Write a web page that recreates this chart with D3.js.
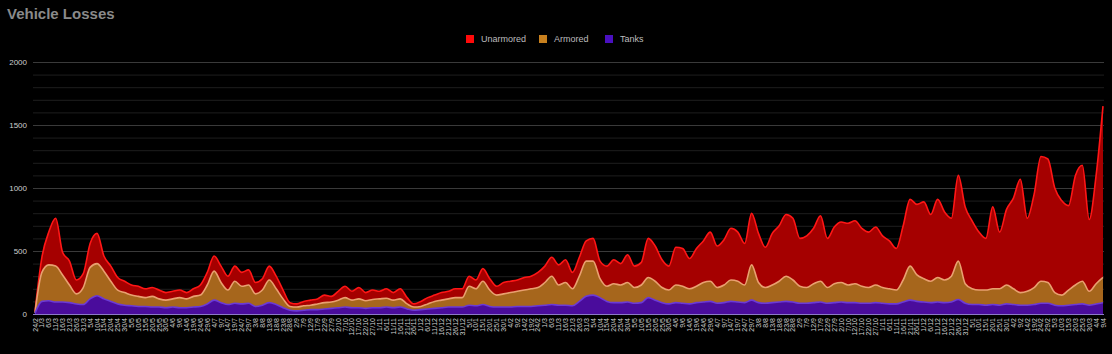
<!DOCTYPE html>
<html>
<head>
<meta charset="utf-8">
<script src="https://cdn.jsdelivr.net/npm/d3@7"></script>
<style>
  html, body { margin: 0; padding: 0; background: #000; }
  svg { display: block; font-family: "Liberation Sans", Arial, sans-serif; }
</style>
</head>
<body>
<div id="chart-container"></div>
<script>
// one point every 5 days, 24/2/2022 onwards
const dates = d3.timeDay.range(new Date(2022, 1, 24), new Date(2024, 3, 10), 5);

const unarmored = [20, 450, 650, 760, 490, 420, 270, 320, 560, 640,
  460, 380, 290, 260, 230, 220, 200, 210, 190, 170,
  180, 190, 170, 200, 230, 330, 460, 380, 300, 380,
  330, 350, 250, 280, 380, 300, 190, 90, 80, 100,
  110, 120, 150, 140, 180, 220, 180, 210, 170, 190,
  180, 200, 170, 200, 130, 80, 100, 130, 150, 170,
  180, 200, 200, 300, 270, 360, 280, 220, 250, 260,
  270, 290, 300, 330, 380, 450, 390, 430, 330, 450,
  580, 600, 420, 380, 430, 400, 470, 380, 410, 600,
  540, 430, 380, 530, 520, 440, 520, 580, 650, 540,
  590, 680, 650, 560, 800, 640, 530, 640, 700, 790,
  760, 600, 620, 680, 780, 600, 690, 730, 720, 740,
  680, 650, 690, 620, 580, 520, 700, 910, 870, 890,
  790, 910, 810, 760, 1100, 850, 740, 650, 600, 850,
  650, 830, 920, 1070, 760, 950, 1250, 1230, 1000, 900,
  860, 1100, 1180, 750, 1100, 1650];

const armored = [10, 330, 390, 380, 310, 230, 160, 210, 370, 400,
  340, 260, 190, 170, 150, 140, 130, 140, 120, 110,
  120, 130, 120, 140, 150, 230, 340, 250, 190, 260,
  220, 230, 160, 190, 270, 200, 120, 60, 55, 65,
  70, 80, 90, 95, 110, 130, 110, 120, 105, 115,
  120, 125, 110, 120, 80, 55, 60, 80, 100, 110,
  120, 130, 130, 220, 200, 260, 190, 150, 160, 170,
  180, 190, 200, 210, 250, 300, 230, 250, 200, 300,
  420, 420, 280, 220, 240, 230, 250, 210, 230, 290,
  260, 210, 190, 230, 220, 200, 220, 250, 260, 210,
  230, 270, 260, 230, 390, 250, 210, 230, 260, 300,
  270, 220, 210, 240, 260, 210, 240, 250, 230, 240,
  220, 210, 230, 210, 200, 190, 270, 380, 310, 280,
  260, 290, 270, 300, 420, 240, 200, 190, 190, 200,
  200, 230, 200, 170, 180, 210, 260, 250, 170, 150,
  190, 230, 260, 180, 240, 290];

const tanks = [5, 100, 105, 95, 95, 90, 80, 75, 120, 145,
  120, 100, 80, 70, 65, 60, 60, 55, 55, 50,
  55, 50, 50, 55, 60, 80, 110, 90, 75, 85,
  80, 85, 60, 70, 90, 75, 50, 30, 25, 30,
  35, 35, 40, 45, 50, 55, 50, 50, 45, 50,
  50, 55, 50, 55, 40, 30, 35, 40, 45, 50,
  55, 55, 55, 70, 65, 75, 60, 55, 55, 55,
  60, 60, 60, 65, 70, 75, 70, 70, 65, 100,
  140, 150, 130, 100, 90, 90, 95, 85, 90, 130,
  110, 90, 80, 90, 85, 80, 90, 95, 100, 85,
  90, 100, 95, 90, 110, 90, 85, 90, 95, 100,
  95, 85, 85, 90, 95, 85, 90, 95, 90, 90,
  85, 85, 90, 85, 80, 80, 95, 110, 100, 95,
  90, 95, 90, 95, 115, 85, 75, 75, 70, 75,
  70, 80, 75, 70, 70, 75, 85, 85, 70, 65,
  70, 75, 80, 70, 80, 90];

const seriesNames = ["Unarmored", "Armored", "Tanks"];
const yTicks = [0, 500, 1000, 1500, 2000];

const width = 1112, height = 354;
const marginLeft = 35, marginRight = 8, marginTop = 62, marginBottom = 40;

const fills = ["#a50000", "#a6661c", "#4a0c9c"];
const strokes = ["#ff1616", "#e9a070", "#6b3ad6"];
const legendColors = ["#ff0a0a", "#c8801e", "#4a10c0"];

const svg = d3.select("#chart-container")
  .append("svg")
  .attr("width", width)
  .attr("height", height);

svg.append("rect").attr("width", width).attr("height", height).attr("fill", "#000");

// title
svg.append("text")
  .attr("x", 7)
  .attr("y", 19)
  .style("fill", "#8a8a8a")
  .style("font-size", "15px")
  .style("font-weight", "bold")
  .text("Vehicle Losses");

const x = d3.scaleTime()
  .domain(d3.extent(dates))
  .range([marginLeft, width - marginRight - 1]);

const y = d3.scaleLinear()
  .domain([0, 2000])
  .range([height - marginBottom, marginTop]);

// gridlines every 100
const grid = svg.append("g");
grid.selectAll("line")
  .data(d3.range(0, 2001, 100))
  .enter()
  .append("line")
  .attr("x1", marginLeft - 2)
  .attr("x2", width - marginRight)
  .attr("y1", d => y(d) + 0.5)
  .attr("y2", d => y(d) + 0.5)
  .attr("stroke", d => d % 500 === 0 ? "#3a3a3a" : "#1e1e1e")
  .attr("stroke-width", 1);

// y labels
svg.append("g").selectAll("text")
  .data(yTicks)
  .enter()
  .append("text")
  .attr("x", 27)
  .attr("y", d => y(d))
  .attr("dy", "0.35em")
  .style("text-anchor", "end")
  .style("fill", "#cfcfcf")
  .style("font-size", "8px")
  .text(d => d);

const series = [unarmored, armored, tanks];

const area = d3.area()
  .x((d, i) => x(dates[i]))
  .y0(y(0))
  .y1(d => y(d))
  .curve(d3.curveMonotoneX);

const line = d3.line()
  .x((d, i) => x(dates[i]))
  .y(d => y(d))
  .curve(d3.curveMonotoneX);

series.forEach((s, k) => {
  svg.append("path")
    .datum(s)
    .attr("d", area)
    .attr("fill", fills[k]);
  svg.append("path")
    .datum(s)
    .attr("d", line)
    .attr("fill", "none")
    .attr("stroke", strokes[k])
    .attr("stroke-width", 1.6)
    .attr("stroke-linejoin", "round");
});

// baseline
svg.append("line")
  .attr("x1", marginLeft - 2)
  .attr("x2", width - marginRight)
  .attr("y1", y(0) + 0.5)
  .attr("y2", y(0) + 0.5)
  .attr("stroke", "#8c78c8")
  .attr("stroke-width", 1);

// x labels, rotated
const fmt = d3.timeFormat("%-d/%-m");
svg.append("g").selectAll("text")
  .data(dates)
  .enter()
  .append("text")
  .attr("transform", d => `translate(${x(d) + 2.5},${y(0) + 4}) rotate(-90)`)
  .style("text-anchor", "end")
  .style("fill", "#d0d0d0")
  .style("font-size", "7px")
  .text(d => fmt(d));

// legend
const legendX = [466, 539, 605];
const legend = svg.selectAll(".legend")
  .data(seriesNames)
  .enter()
  .append("g")
  .attr("class", "legend")
  .attr("transform", (d, i) => `translate(${legendX[i]},35)`);

legend.append("rect")
  .attr("width", 8)
  .attr("height", 8)
  .style("fill", (d, i) => legendColors[i]);

legend.append("text")
  .attr("x", 15)
  .attr("y", 4)
  .attr("dy", ".35em")
  .style("fill", "#bdbdbd")
  .style("font-size", "9px")
  .text(d => d);
</script>
</body>
</html>
